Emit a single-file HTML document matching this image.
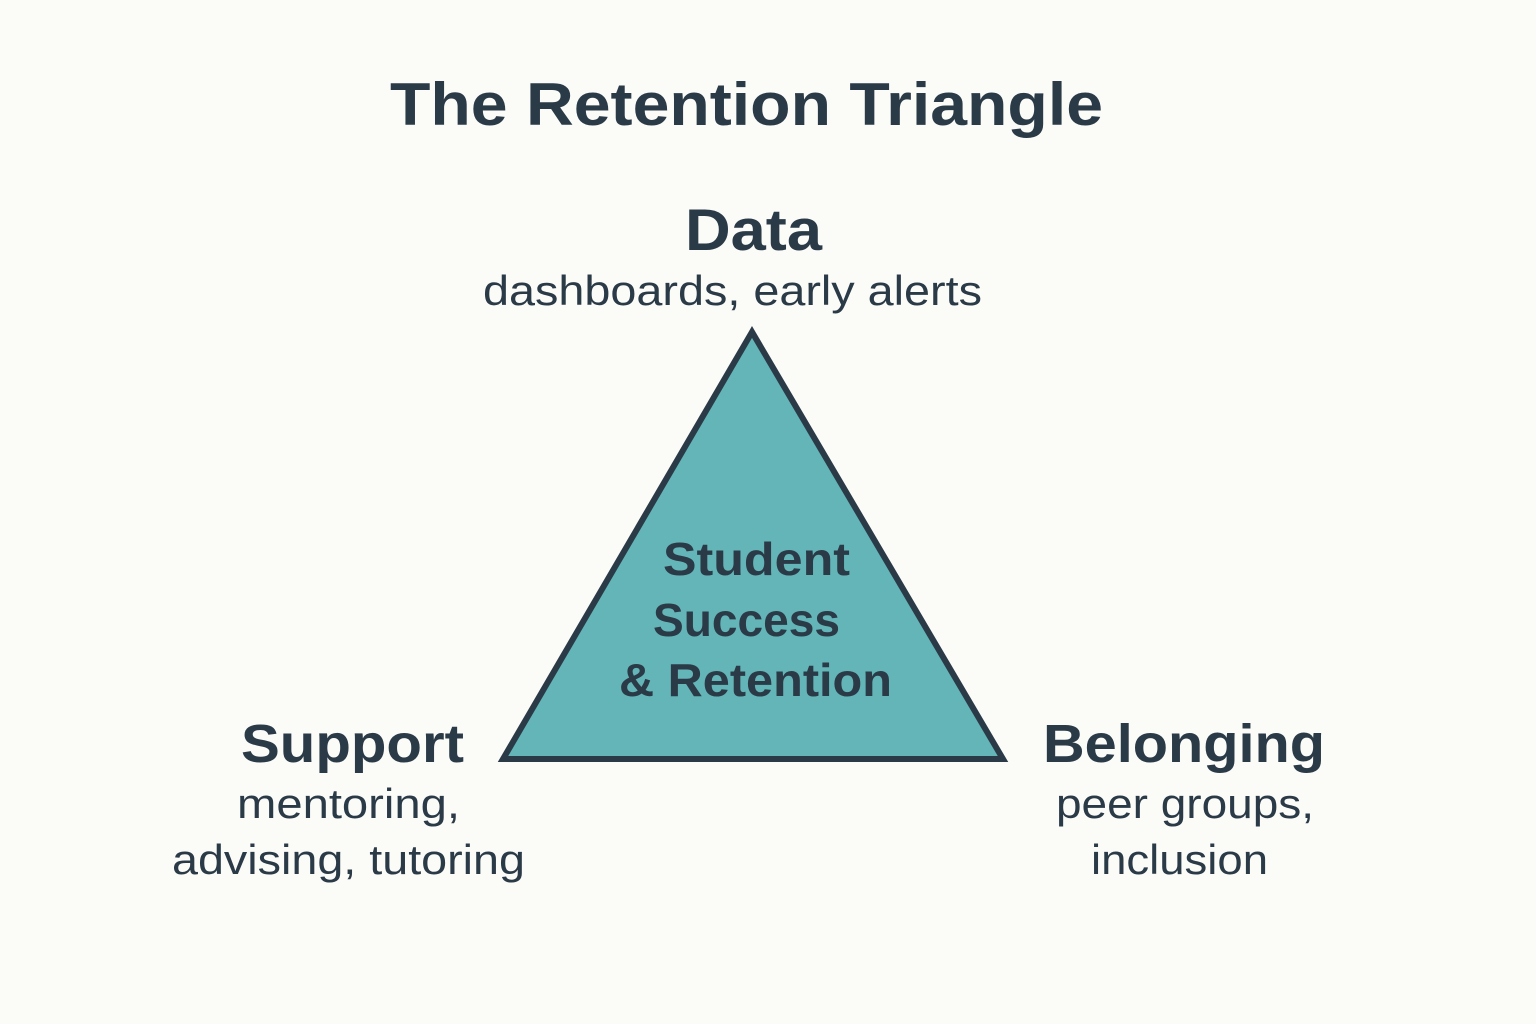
<!DOCTYPE html>
<html><head><meta charset="utf-8"><style>
html,body{margin:0;padding:0;background:#fbfbf8;}
svg{display:block;}
text{font-family:"Liberation Sans",sans-serif;fill:#2b3a47;}
.b{font-weight:bold;}
</style></head><body>
<svg width="1536" height="1024" viewBox="0 0 1536 1024">
<rect width="1536" height="1024" fill="#fbfbf8"/>
<text class="b" x="390" y="125" font-size="60" textLength="713" lengthAdjust="spacingAndGlyphs">The Retention Triangle</text>
<text class="b" x="685" y="250" font-size="58" textLength="137" lengthAdjust="spacingAndGlyphs">Data</text>
<text x="483" y="305" font-size="42" textLength="499" lengthAdjust="spacingAndGlyphs">dashboards, early alerts</text>
<polygon points="752,332 503,759 1003,759" fill="#63b5b8" stroke="#2b3a47" stroke-width="6" stroke-linejoin="miter"/>
<text class="b" x="663" y="575" font-size="46" textLength="187" lengthAdjust="spacingAndGlyphs">Student</text>
<text class="b" x="653" y="636" font-size="46" textLength="187" lengthAdjust="spacingAndGlyphs">Success</text>
<text class="b" x="619" y="696" font-size="46" textLength="273" lengthAdjust="spacingAndGlyphs">&amp; Retention</text>
<text class="b" x="241" y="762" font-size="54" textLength="223" lengthAdjust="spacingAndGlyphs">Support</text>
<text x="237" y="818" font-size="42" textLength="223" lengthAdjust="spacingAndGlyphs">mentoring,</text>
<text x="172" y="874" font-size="42" textLength="353" lengthAdjust="spacingAndGlyphs">advising, tutoring</text>
<text class="b" x="1043" y="762" font-size="54" textLength="282" lengthAdjust="spacingAndGlyphs">Belonging</text>
<text x="1056" y="818" font-size="42" textLength="258" lengthAdjust="spacingAndGlyphs">peer groups,</text>
<text x="1091" y="874" font-size="42" textLength="177" lengthAdjust="spacingAndGlyphs">inclusion</text>
</svg>
</body></html>
